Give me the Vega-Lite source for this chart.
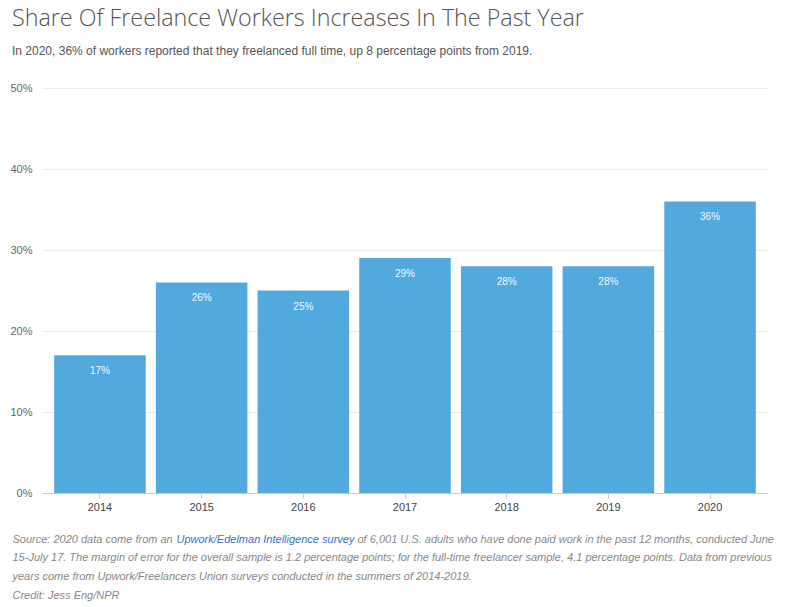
{
  "$schema": "https://vega.github.io/schema/vega-lite/v6.json",
  "width": 726,
  "height": 405,
  "autosize": {"type": "none"},
  "padding": {"left": 42, "top": 88, "right": 20, "bottom": 114},
  "background": "white",
  "title": {
    "text": "Share Of Freelance Workers Increases In The Past Year",
    "subtitle": "In 2020, 36% of workers reported that they freelanced full time, up 8 percentage points from 2019.",
    "anchor": "start",
    "frame": "group",
    "dx": -30,
    "offset": 24,
    "font": "Open Sans",
    "fontSize": 23.3,
    "fontWeight": 300,
    "color": "#555555",
    "subtitleFont": "Liberation Sans",
    "subtitleFontSize": 12,
    "subtitleColor": "#555555",
    "subtitlePadding": 15
  },
  "data": {
    "values": [
      {"year": "2014", "share": 0.17},
      {"year": "2015", "share": 0.26},
      {"year": "2016", "share": 0.25},
      {"year": "2017", "share": 0.29},
      {"year": "2018", "share": 0.28},
      {"year": "2019", "share": 0.28},
      {"year": "2020", "share": 0.36}
    ]
  },
  "config": {"view": {"stroke": null}},
  "layer": [
    {
      "mark": {"type": "bar", "color": "#52a9de"},
      "encoding": {
        "x": {
          "field": "year",
          "type": "ordinal",
          "scale": {"paddingInner": 0.1, "paddingOuter": 0.12},
          "axis": {
            "labelAngle": 0,
            "labelFont": "Liberation Sans",
            "labelFontSize": 11,
            "labelColor": "#444444",
            "labelPadding": 3,
            "domainColor": "#cccccc",
            "tickColor": "#cccccc",
            "tickSize": 5,
            "title": [
              "Source: 2020 data come from an",
              "15-July 17. The margin of error for the overall sample is 1.2 percentage points; for the full-time freelancer sample, 4.1 percentage points. Data from previous",
              "years come from Upwork/Freelancers Union surveys conducted in the summers of 2014-2019.",
              "Credit: Jess Eng/NPR"
            ],
            "titleX": -30,
            "titleY": 49,
            "titleAlign": "left",
            "titleAnchor": "start",
            "titleBaseline": "alphabetic",
            "titleFont": "Liberation Sans",
            "titleFontStyle": "italic",
            "titleFontWeight": "normal",
            "titleFontSize": 11,
            "titleColor": "#888888",
            "titleLineHeight": 18.7
          }
        },
        "y": {
          "field": "share",
          "type": "quantitative",
          "scale": {"domain": [0, 0.5]},
          "axis": {
            "values": [0, 0.1, 0.2, 0.3, 0.4, 0.5],
            "format": ".0%",
            "labelFont": "Liberation Sans",
            "labelFontSize": 11,
            "labelColor": "#666666",
            "labelPadding": 10,
            "ticks": false,
            "domain": false,
            "grid": true,
            "gridColor": "#ebebeb",
            "title": "Upwork/Edelman Intelligence survey",
            "titleAngle": 0,
            "titleX": 134,
            "titleY": 454,
            "titleAlign": "left",
            "titleAnchor": "start",
            "titleBaseline": "alphabetic",
            "titleFont": "Liberation Sans",
            "titleFontStyle": "italic",
            "titleFontWeight": "normal",
            "titleFontSize": 11,
            "titleColor": "#3a6fd0"
          }
        }
      }
    },
    {
      "mark": {"type": "text", "baseline": "top", "dy": 11, "color": "#ffffff", "opacity": 0.92, "font": "Liberation Sans", "fontSize": 10},
      "encoding": {
        "x": {"field": "year", "type": "ordinal"},
        "y": {
          "field": "share",
          "type": "quantitative",
          "scale": {"domain": [0, 0.5]},
          "axis": {
            "orient": "right",
            "labels": false,
            "ticks": false,
            "domain": false,
            "grid": false,
            "title": "of 6,001 U.S. adults who have done paid work in the past 12 months, conducted June",
            "titleAngle": 0,
            "titleX": -411,
            "titleY": 454,
            "titleAlign": "left",
            "titleAnchor": "start",
            "titleBaseline": "alphabetic",
            "titleFont": "Liberation Sans",
            "titleFontStyle": "italic",
            "titleFontWeight": "normal",
            "titleFontSize": 11,
            "titleColor": "#888888"
          }
        },
        "text": {"field": "share", "type": "quantitative", "format": ".0%"}
      }
    }
  ],
  "resolve": {"scale": {"y": "independent"}}
}
